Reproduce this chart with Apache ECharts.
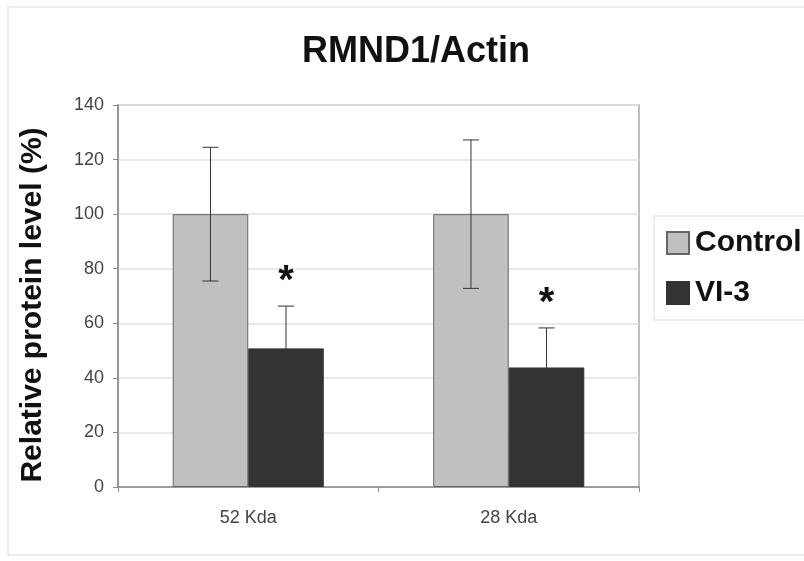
<!DOCTYPE html>
<html>
<head>
<meta charset="utf-8">
<script src="https://cdn.jsdelivr.net/npm/echarts@6/dist/echarts.min.js"></script>
<style>html,body{margin:0;padding:0;background:#fff}#c{width:804px;height:561px}</style>
</head>
<body>
<div id="c"></div>
<script>
var categories = ['52 Kda', '28 Kda'];
var controlValues = [100, 100];
var controlErrors = [24.5, 27.2];
var vi3Values = [50.8, 43.8];
var vi3Errors = [15.5, 14.5];
var vi3Significance = ['*', '*'];
var yTicks = [0, 20, 40, 60, 80, 100, 120, 140];

var BAR_RATIO = 0.29;

function errorSeries(name, values, errors, side, marks) {
  var data = values.map(function (v, i) { return [i, v, errors[i], marks ? marks[i] : '']; });
  return {
    type: 'custom',
    name: name + ' err',
    z: 10,
    silent: true,
    data: data,
    renderItem: function (params, api) {
      var i = api.value(0), v = api.value(1), e = api.value(2);
      var band = api.size([1, 0])[0];
      var c = api.coord([i, v]);
      var x = c[0] + side * band * BAR_RATIO / 2;
      var top = api.coord([i, v + e])[1];
      var bot = api.coord([i, v - e])[1];
      var cap = 8;
      var st = { stroke: '#333', lineWidth: 1 };
      var children = [
        { type: 'line', shape: { x1: x, y1: top, x2: x, y2: bot }, style: st },
        { type: 'line', shape: { x1: x - cap, y1: top, x2: x + cap, y2: top }, style: st },
        { type: 'line', shape: { x1: x - cap, y1: bot, x2: x + cap, y2: bot }, style: st }
      ];
      var m = data[params.dataIndex][3];
      if (m) {
        children.push({
          type: 'text',
          style: { text: m, x: x, y: top - 24, align: 'center', verticalAlign: 'middle',
            font: 'bold 40px "Liberation Sans", Arial, sans-serif', fill: '#111' }
        });
      }
      return { type: 'group', children: children };
    }
  };
}

var chart = echarts.init(document.getElementById('c'));
chart.setOption({
  backgroundColor: '#fff',
  animation: false,
  title: {
    text: 'RMND1/Actin',
    left: 297, top: 29,
    textStyle: { fontFamily: '"Liberation Sans", Arial, sans-serif', fontWeight: 'bold', fontSize: 36, color: '#111' }
  },
  graphic: [
    { type: 'rect', shape: { x: 8, y: 7, width: 800, height: 548 }, style: { fill: 'none', stroke: '#e6e6e6', lineWidth: 1.5 }, z: -1 },
    { type: 'rect', shape: { x: 118, y: 105, width: 521, height: 382 }, style: { fill: 'none', stroke: '#aaa', lineWidth: 1.5 }, z: 0 }
  ],
  legend: {
    orient: 'vertical',
    left: 654, top: 216,
    padding: [12, 40, 12, 12],
    itemGap: 20,
    itemWidth: 22, itemHeight: 22,
    borderColor: '#ddd', borderWidth: 1,
    icon: 'rect',
    data: ['Control', 'VI-3'],
    textStyle: { fontFamily: '"Liberation Sans", Arial, sans-serif', fontWeight: 'bold', fontSize: 30, color: '#111', padding: [0, 0, 0, 1] }
  },
  grid: { left: 118, right: 165, top: 105, bottom: 74 },
  xAxis: {
    type: 'category',
    data: categories,
    axisLine: { lineStyle: { color: '#888', width: 1.5 } },
    axisTick: { show: true, length: 5, lineStyle: { color: '#888' } },
    axisLabel: { fontFamily: '"Liberation Sans", Arial, sans-serif', fontSize: 18, color: '#444', margin: 22 }
  },
  yAxis: {
    type: 'value',
    min: yTicks[0], max: yTicks[yTicks.length - 1], interval: 20,
    name: 'Relative protein level (%)',
    nameLocation: 'middle', nameGap: 70,
    nameTextStyle: { fontFamily: '"Liberation Sans", Arial, sans-serif', fontWeight: 'bold', fontSize: 30, color: '#111', padding: [0, 18, 0, 0] },
    axisLine: { show: true, lineStyle: { color: '#888', width: 1.5 } },
    axisTick: { show: true, length: 5, lineStyle: { color: '#888' } },
    splitLine: { lineStyle: { color: '#e2e2e2', width: 1.5 } },
    axisLabel: { fontFamily: '"Liberation Sans", Arial, sans-serif', fontSize: 18, color: '#444', margin: 14 }
  },
  series: [
    {
      name: 'Control', type: 'bar', data: controlValues,
      barWidth: (BAR_RATIO * 100) + '%', barGap: '0%',
      itemStyle: { color: '#c0c0c0', borderColor: '#666', borderWidth: 1 }
    },
    {
      name: 'VI-3', type: 'bar', data: vi3Values,
      barWidth: (BAR_RATIO * 100) + '%', barGap: '0%',
      itemStyle: { color: '#333333', borderColor: '#333', borderWidth: 1 }
    },
    errorSeries('Control', controlValues, controlErrors, -1, null),
    errorSeries('VI-3', vi3Values, vi3Errors, 1, vi3Significance)
  ]
});
</script>
</body>
</html>
